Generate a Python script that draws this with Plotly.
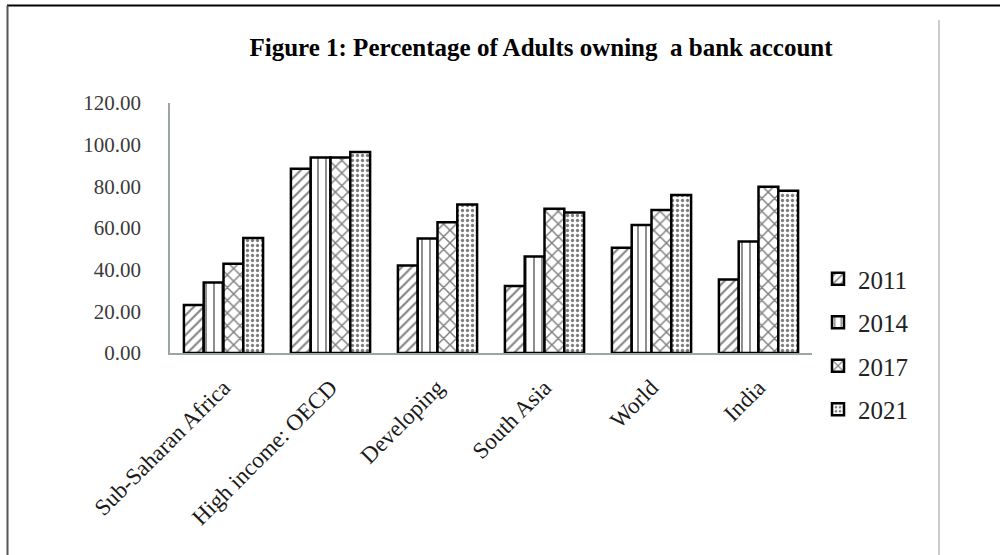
import plotly.graph_objects as go

# Account ownership (% of adults, age 15+) by region and survey year
regions = ["Sub-Saharan Africa", "High income: OECD", "Developing",
           "South Asia", "World", "India"]
years = ["2011", "2014", "2017", "2021"]
own_2011 = [23.0, 88.5, 42.0, 32.2, 50.5, 35.3]
own_2014 = [33.8, 93.8, 55.0, 46.3, 61.5, 53.5]
own_2017 = [42.8, 93.8, 62.8, 69.3, 68.7, 79.8]
own_2021 = [55.2, 96.5, 71.3, 67.4, 75.9, 77.9]
y_ticks = [0, 20, 40, 60, 80, 100, 120]

series = [own_2011, own_2014, own_2017, own_2021]
patterns = ["/", "|", "x", "."]
pattern_sizes = [7, 8, 9, 5]
pattern_solid = [0.28, 0.22, 0.3, 0.35]

serif = "Liberation Serif, Times New Roman, serif"

fig = go.Figure()
for i, (yr, vals) in enumerate(zip(years, series)):
    fig.add_trace(go.Bar(
        x=regions, y=vals, name=yr,
        legendgroup=yr,
        marker=dict(
            color="white",
            line=dict(color="black", width=2.5),
            pattern=dict(shape=patterns[i], fgcolor="black", bgcolor="white",
                         size=pattern_sizes[i], solidity=pattern_solid[i],
                         fillmode="overlay"),
        ),
    ))

# plot area in pixels (within the 1000 x 555 page)
W, H = 1000, 555
L, R, T, B = 170, 188, 103, 202
pw, ph = W - L - R, H - T - B


def px_x(p):
    return (p - L) / pw


def px_y(q):
    return (H - B - q) / ph


shapes = [
    # page frame: top and left rules
    dict(type="line", xref="paper", yref="paper",
         x0=px_x(7), x1=px_x(1000), y0=px_y(5.5), y1=px_y(5.5),
         line=dict(color="black", width=2)),
    dict(type="line", xref="paper", yref="paper",
         x0=px_x(7.5), x1=px_x(7.5), y0=px_y(5.5), y1=px_y(555),
         line=dict(color="#555555", width=2)),
    # light divider on the right
    dict(type="line", xref="paper", yref="paper",
         x0=px_x(939), x1=px_x(939), y0=px_y(20), y1=px_y(555),
         line=dict(color="#c8cccc", width=2)),
]

fig.update_layout(
    width=W, height=H,
    margin=dict(l=L, r=R, t=T, b=B, autoexpand=False),
    paper_bgcolor="white", plot_bgcolor="white",
    barmode="group", bargap=0.26, bargroupgap=0,
    title=dict(text="<b>Figure 1: Percentage of Adults owning  a bank account</b>",
               x=0.541, xref="container", xanchor="center",
               y=1 - 47 / H, yref="container", yanchor="middle",
               font=dict(family=serif, size=25, color="black")),
    font=dict(family=serif, color="#333333"),
    showlegend=True,
    legend=dict(x=px_x(818), y=px_y(256), xanchor="left", yanchor="top",
                xref="paper", yref="paper",
                traceorder="grouped", tracegroupgap=8,
                font=dict(family=serif, size=25, color="#222222"),
                itemwidth=30, bgcolor="rgba(0,0,0,0)"),
    shapes=shapes,
)

fig.update_yaxes(range=[0, 120], tickvals=y_ticks, tickformat=".2f",
                 showgrid=False, zeroline=False,
                 showline=True, linecolor="#9aa6a6", linewidth=1.5,
                 ticks="", ticklabelstandoff=23,
                 tickfont=dict(family=serif, size=21, color="#3a3a3a"))
fig.update_xaxes(showgrid=False, showline=True, linecolor="#9aa6a6",
                 linewidth=2, ticks="", tickangle=-45, ticklabelstandoff=10,
                 tickfont=dict(family=serif, size=23, color="#1a1a1a"))

fig.write_html("out.html")
